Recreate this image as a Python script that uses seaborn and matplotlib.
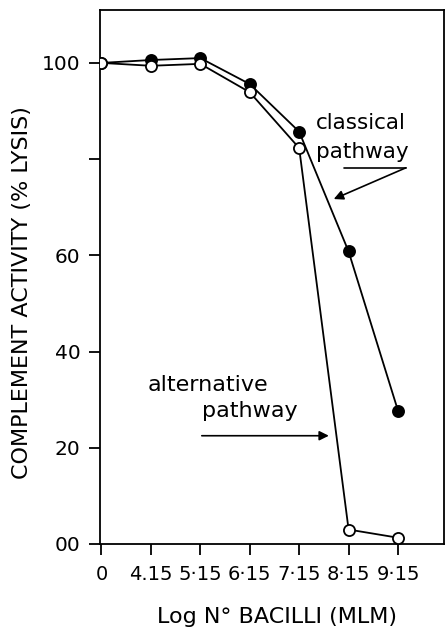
import numpy as np
import pandas as pd
import matplotlib
matplotlib.use("Agg")
import matplotlib.pyplot as plt
import seaborn as sns

# Log number of bacilli (MLM) used as categories along x
bacilli_labels = ["0", "4.15", "5·15", "6·15", "7·15", "8·15", "9·15"]

# Complement activity (% lysis) for each pathway
classical = [100.0, 100.6, 101.0, 95.6, 85.7, 60.8, 27.7]
alternative = [100.0, 99.4, 99.8, 93.9, 82.3, 3.0, 1.3]

# Y axis ticks and their printed labels
y_ticks = [0, 20, 40, 60, 80, 100]
y_tick_labels = ["00", "20", "40", "60", "", "100"]

pos = np.arange(len(bacilli_labels))
df = pd.DataFrame({
    "pos": np.concatenate([pos, pos]),
    "lysis": classical + alternative,
    "pathway": ["classical"] * len(pos) + ["alternative"] * len(pos),
})

sns.set_style("ticks")
plt.rcParams["font.family"] = ["DejaVu Sans"]
plt.rcParams["text.color"] = "black"
plt.rcParams["axes.labelcolor"] = "black"

fig = plt.figure(figsize=(4.45, 6.36), dpi=100)
ax = fig.add_axes([0.2247, 0.1447, 0.7730, 0.8396])

sns.lineplot(data=df[df.pathway == "classical"], x="pos", y="lysis", ax=ax,
             color="black", linewidth=1.3, marker="o", markersize=8,
             markerfacecolor="black", markeredgecolor="black",
             markeredgewidth=1.3, zorder=3)
sns.lineplot(data=df[df.pathway == "alternative"], x="pos", y="lysis", ax=ax,
             color="black", linewidth=1.3, marker="o", markersize=8,
             markerfacecolor="white", markeredgecolor="black",
             markeredgewidth=1.3, zorder=4)

ax.set_xlim(-0.03, 6.93)
ax.set_ylim(0, 111)
ax.set_xticks(pos)
ax.set_xticklabels(bacilli_labels)
ax.set_yticks(y_ticks)
ax.set_yticklabels(y_tick_labels)
ax.tick_params(axis="both", direction="out", length=8, width=1.3,
               color="black", labelcolor="black")
ax.tick_params(axis="y", pad=6, labelsize=14.5)
ax.tick_params(axis="x", pad=7, labelsize=14)
for s in ax.spines.values():
    s.set_visible(True)
    s.set_linewidth(1.3)
    s.set_color("black")

ax.set_xlabel("Log N° BACILLI (MLM)", fontsize=16)
ax.xaxis.set_label_coords(0.515, -0.118)
ax.set_ylabel("COMPLEMENT ACTIVITY (% LYSIS)", fontsize=16)
ax.yaxis.set_label_coords(-0.198, 0.47)

# Pathway labels with pointer arrows
ax.text(4.34, 87.5, "classical", fontsize=15.5, va="center", ha="left")
ax.text(4.34, 81.5, "pathway", fontsize=15.5, va="center", ha="left")
ax.plot([4.90, 6.16], [78.2, 78.2], color="black", lw=1.2)
ax.annotate("", xy=(4.70, 71.7), xytext=(6.16, 78.2),
            arrowprops=dict(arrowstyle="-|>", color="black", lw=1.2,
                            mutation_scale=14, shrinkA=0, shrinkB=0))

ax.text(0.93, 33, "alternative", fontsize=16, va="center", ha="left")
ax.text(2.03, 27.6, "pathway", fontsize=16, va="center", ha="left")
ax.annotate("", xy=(4.60, 22.5), xytext=(2.03, 22.5),
            arrowprops=dict(arrowstyle="-|>", color="black", lw=1.2,
                            mutation_scale=14, shrinkA=0, shrinkB=0))

fig.savefig("out.png", dpi=100)
